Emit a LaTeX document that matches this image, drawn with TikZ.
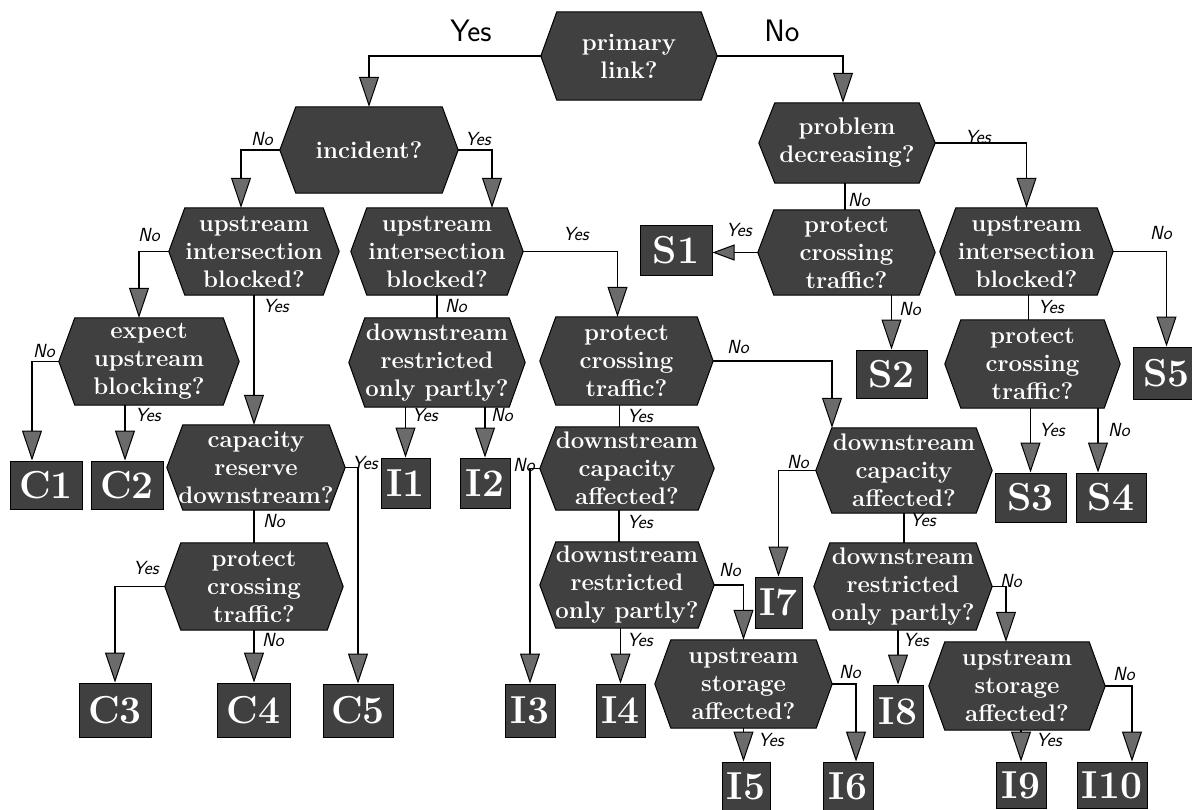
\documentclass[tikz,border=0pt]{standalone}
\usepackage{fontspec}
\usetikzlibrary{arrows.meta}
\definecolor{boxgray}{gray}{0.25}
\definecolor{tipgray}{gray}{0.42}
\pgfdeclarelayer{background}
\pgfsetlayers{background,main}
\begin{document}
\begin{tikzpicture}[x=1pt,y=-1pt,
  hex/.style={shape=rectangle,inner sep=0pt,text=white,align=center,
    font=\bfseries\fontsize{24}{28}\selectfont},
  term/.style={shape=rectangle,draw=black,line width=1pt,fill=boxgray,inner sep=0pt,
    text=white,font=\bfseries\fontsize{39}{39}\selectfont},
  arr/.style={draw=black,line width=1.6pt,
    -{Triangle[width=20pt,length=30pt,fill=tipgray,line width=1pt]}},
  sarr/.style={draw=black,line width=1.6pt,
    -{Triangle[width=16pt,length=22pt,fill=tipgray,line width=1pt]}},
  ln/.style={draw=black,line width=1.6pt},
  biglab/.style={font=\sffamily\fontsize{31}{31}\selectfont,inner sep=0pt},
  lab/.style={font=\sffamily\slshape\fontsize{19}{19}\selectfont,inner sep=0pt}]
\useasboundingbox (0,0) rectangle (1192,809);

% decision hexagons (text nodes; shapes drawn on background)
\node[hex,minimum width=176pt,minimum height=88pt] (prim) at (629,56) {primary\\link?};
\node[hex,minimum width=178pt,minimum height=86pt] (inc) at (369,150) {incident?};
\node[hex,minimum width=176pt,minimum height=80pt] (prob) at (847,143) {problem\\decreasing?};
\node[hex,minimum width=170pt,minimum height=87pt] (upA) at (254,251.5) {upstream\\intersection\\blocked?};
\node[hex,minimum width=172pt,minimum height=87pt] (upB) at (437,251.5) {upstream\\intersection\\blocked?};
\node[hex,minimum width=177pt,minimum height=85pt] (protS) at (846.5,252.5) {protect\\crossing\\traffic?};
\node[hex,minimum width=173pt,minimum height=87pt] (upR) at (1026.5,251.5) {upstream\\intersection\\blocked?};
\node[hex,minimum width=180pt,minimum height=87pt] (exp) at (149,361.5) {expect\\upstream\\blocking?};
\node[hex,minimum width=176pt,minimum height=89pt] (drL) at (437,362.5) {downstream\\restricted\\only partly?};
\node[hex,minimum width=173pt,minimum height=88pt] (protM) at (626.5,361) {protect\\crossing\\traffic?};
\node[hex,minimum width=175pt,minimum height=88pt] (protR) at (1032.5,364) {protect\\crossing\\traffic?};
\node[hex,minimum width=178pt,minimum height=85pt] (cap) at (256,467.5) {capacity\\reserve\\downstream?};
\node[hex,minimum width=174pt,minimum height=83pt] (dcM) at (627,468.5) {downstream\\capacity\\affected?};
\node[hex,minimum width=176pt,minimum height=85pt] (dcR) at (904,470.5) {downstream\\capacity\\affected?};
\node[hex,minimum width=178pt,minimum height=87pt] (protBL) at (254,586.5) {protect\\crossing\\traffic?};
\node[hex,minimum width=174pt,minimum height=86pt] (drM) at (627,585) {downstream\\restricted\\only partly?};
\node[hex,minimum width=178pt,minimum height=87pt] (drR) at (903,586.5) {downstream\\restricted\\only partly?};
\node[hex,minimum width=177pt,minimum height=88pt] (stL) at (743.5,684) {upstream\\storage\\affected?};
\node[hex,minimum width=176pt,minimum height=88pt] (stR) at (1017,686) {upstream\\storage\\affected?};

\begin{pgfonlayer}{background}
\foreach \n in {prim,inc,prob,upA,upB,protS,upR,exp,drL,protM,protR,cap,dcM,dcR,protBL,drM,drR,stL,stR}{
  \filldraw[fill=boxgray,draw=black,line width=1pt]
    (\n.west) -- ([xshift=16pt]\n.north west) -- ([xshift=-16pt]\n.north east)
    -- (\n.east) -- ([xshift=-16pt]\n.south east) -- ([xshift=16pt]\n.south west) -- cycle;
}
\end{pgfonlayer}

% terminal boxes
\node[term,minimum width=72pt,minimum height=50pt] (S1) at (676,250) {S1};
\node[term,minimum width=71pt,minimum height=48pt] (S2) at (891.5,374) {S2};
\node[term,minimum width=67pt,minimum height=52pt] (S5) at (1166.5,373) {S5};
\node[term,minimum width=71pt,minimum height=49pt] (S3) at (1030.5,497.5) {S3};
\node[term,minimum width=70pt,minimum height=49pt] (S4) at (1111,497.5) {S4};
\node[term,minimum width=72pt,minimum height=48pt] (C1) at (46,485) {C1};
\node[term,minimum width=72pt,minimum height=48pt] (C2) at (127,485) {C2};
\node[term,minimum width=49pt,minimum height=50pt] (I1) at (405.5,483) {I1};
\node[term,minimum width=50pt,minimum height=50pt] (I2) at (485,483) {I2};
\node[term,minimum width=72pt,minimum height=54pt] (C3) at (115,710) {C3};
\node[term,minimum width=73pt,minimum height=54pt] (C4) at (253.5,710) {C4};
\node[term,minimum width=70pt,minimum height=53pt] (C5) at (358,710.5) {C5};
\node[term,minimum width=50pt,minimum height=53pt] (I3) at (530,710.5) {I3};
\node[term,minimum width=49pt,minimum height=53pt] (I4) at (620.5,710.5) {I4};
\node[term,minimum width=47pt,minimum height=51pt] (I7) at (778.5,602.5) {I7};
\node[term,minimum width=50pt,minimum height=52pt] (I8) at (898,711) {I8};
\node[term,minimum width=48pt,minimum height=48pt] (I5) at (746,786) {I5};
\node[term,minimum width=50pt,minimum height=48pt] (I6) at (848,786) {I6};
\node[term,minimum width=50pt,minimum height=46pt] (I9) at (1021,785) {I9};
\node[term,minimum width=70pt,minimum height=46pt] (I10) at (1112,785) {I10};

% connectors
\draw[arr] (prim.west) -| (inc.north);
\draw[arr] (prim.east) -| ([xshift=-4pt]prob.north);
\draw[arr] (inc.west) -| ([xshift=-13pt]upA.north);
\draw[arr] (inc.east) -| ([xshift=55pt]upB.north);
\draw[arr] (upA.west) -| ([xshift=-10pt]exp.north);
\draw[arr] (upA.south) -- (upA.south |- cap.north);
\draw[ln]  (upB.south) -- (upB.south |- drL.north);
\draw[arr] (upB.east) -| ([xshift=-9pt]protM.north);
\draw[arr] (exp.west) -| ([xshift=-14pt]C1.north);
\draw[arr] ([xshift=-24pt]exp.south) -- ([xshift=-2pt]C2.north);
\draw[arr] (I1.north |- drL.south) -- (I1.north);
\draw[arr] (I2.north |- drL.south) -- (I2.north);
\draw[arr] (cap.east) -| (C5.north);
\draw[ln]  (protBL.north |- cap.south) -- (protBL.north);
\draw[arr] (protBL.west) -| (C3.north);
\draw[arr] (protBL.south) -- (protBL.south |- C4.north);
\draw[ln]  ([xshift=-7pt]protM.south) -- ([xshift=-7pt]protM.south |- dcM.north);
\draw[arr] (protM.east) -| ([xshift=-72pt]dcR.north);
\draw[arr] (dcM.west) -| (I3.north);
\draw[ln]  ([xshift=-8pt]dcM.south) -- ([xshift=-8pt]dcM.south |- drM.north);
\draw[arr] (I4.north |- drM.south) -- (I4.north);
\draw[arr] (drM.east) -| (stL.north);
\draw[arr] (stL.south) -- (stL.south |- I5.north);
\draw[arr] (stL.east) -| ([xshift=8pt]I6.north);
\draw[arr] (dcR.west) -| (I7.north);
\draw[ln]  (dcR.south) -- (dcR.south |- drR.north);
\draw[arr] (I8.north |- drR.south) -- (I8.north);
\draw[arr] (drR.east) -| ([xshift=-11pt]stR.north);
\draw[arr] (I9.north |- stR.south) -- (I9.north);
\draw[arr] (stR.east) -| ([xshift=20pt]I10.north);
\draw[ln]  ([xshift=-2pt]prob.south) -- ([xshift=-2pt]prob.south |- protS.north);
\draw[arr] (prob.east) -| (upR.north);
\draw[sarr] (protS.west) -- (protS.west -| S1.east);
\draw[arr] (S2.north |- protS.south) -- (S2.north);
\draw[ln]  ([xshift=2pt]upR.south) -- ([xshift=2pt]upR.south |- protR.north);
\draw[arr] (upR.east) -| (S5.north);
\draw[arr] (S3.north |- protR.south) -- (S3.north);
\draw[arr] ([xshift=-13pt]S4.north |- protR.south) -- ([xshift=-13pt]S4.north);

% labels
\node[biglab] (l1) at (471,31) {Yes};
\node[biglab] (l2) at (782,31) {No};
\node[lab] (l3) at (262,139) {No};
\node[lab] (l4) at (478,139) {Yes};
\node[lab] (l5) at (149,235) {No};
\node[lab] (l6) at (276,306) {Yes};
\node[lab] (l7) at (456,306) {No};
\node[lab] (l8) at (576,234) {Yes};
\node[lab] (l9) at (44,351) {No};
\node[lab] (l10) at (148,415) {Yes};
\node[lab] (l11) at (425,415) {Yes};
\node[lab] (l12) at (502,415) {No};
\node[lab] (l13) at (365,463) {Yes};
\node[lab] (l14) at (274,521) {No};
\node[lab] (l15) at (146,568) {Yes};
\node[lab] (l16) at (273,640) {No};
\node[lab] (l17) at (640,416) {Yes};
\node[lab] (l18) at (738,347) {No};
\node[lab] (l19) at (524,465) {No};
\node[lab] (l20) at (640,522) {Yes};
\node[lab] (l21) at (640,640) {Yes};
\node[lab] (l22) at (730,570) {No};
\node[lab] (l23) at (771,740) {Yes};
\node[lab] (l24) at (850,672) {No};
\node[lab] (l25) at (798,462) {No};
\node[lab] (l26) at (923,520) {Yes};
\node[lab] (l27) at (916,640) {Yes};
\node[lab] (l28) at (1011,581) {No};
\node[lab] (l29) at (1049,740) {Yes};
\node[lab] (l30) at (1124,674) {No};
\node[lab] (l31) at (859,200) {No};
\node[lab] (l32) at (978,137) {Yes};
\node[lab] (l33) at (739,230) {Yes};
\node[lab] (l34) at (910,309) {No};
\node[lab] (l35) at (1051,307) {Yes};
\node[lab] (l36) at (1161,233) {No};
\node[lab] (l37) at (1052,430) {Yes};
\node[lab] (l38) at (1119,430) {No};
\end{tikzpicture}
\end{document}
